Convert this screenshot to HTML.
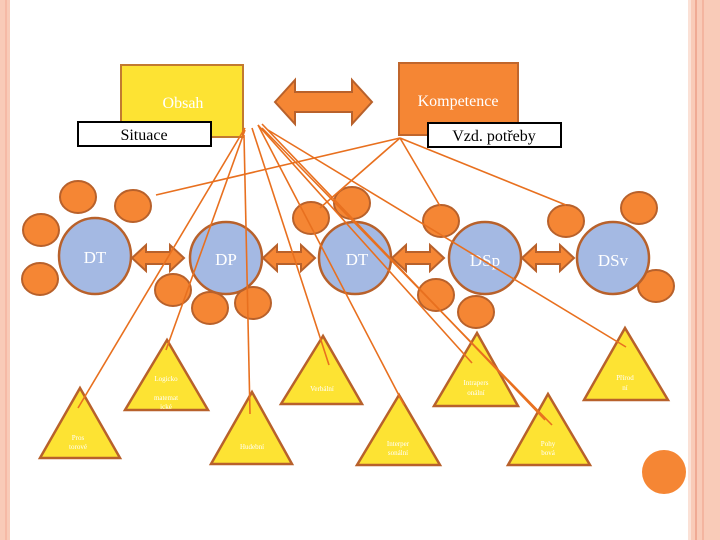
<!DOCTYPE html>
<html><head><meta charset="utf-8"><style>
html,body{margin:0;padding:0;background:#fff}
svg{display:block}
text{font-family:"Liberation Serif",serif}
</style></head><body>
<svg width="720" height="540" viewBox="0 0 720 540" xmlns="http://www.w3.org/2000/svg">
<defs>
<g id="harr"><polygon points="0,0 14,-13 14,-6 38,-6 38,-13 52,0 38,13 38,6 14,6 14,13" fill="#f58634" stroke="#b8612b" stroke-width="2"/></g>
</defs>
<!-- borders -->
<rect x="0" y="0" width="10" height="540" fill="#f9cbb8"/>
<line x1="6" y1="0" x2="6" y2="540" stroke="#f3a994" stroke-width="1"/>
<rect x="688" y="0" width="32" height="540" fill="#f9cbb8"/>
<rect x="688" y="0" width="3" height="540" fill="#fbe1d6"/>
<line x1="696" y1="0" x2="696" y2="540" stroke="#ee9f88" stroke-width="1.5"/>
<line x1="703" y1="0" x2="703" y2="540" stroke="#ee9f88" stroke-width="1"/>

<!-- top boxes -->
<rect x="121" y="65" width="122" height="72" fill="#fde333" stroke="#c27a30" stroke-width="2"/>
<text x="183" y="108" fill="#fff" font-size="16" text-anchor="middle">Obsah</text>
<rect x="399" y="63" width="119" height="72" fill="#f58634" stroke="#c0662c" stroke-width="2"/>
<text x="458" y="106" fill="#fff" font-size="16" text-anchor="middle">Kompetence</text>
<polygon points="275,102 295,80 295,92 352,92 352,80 372,102 352,124 352,112 295,112 295,124" fill="#f58634" stroke="#b8612b" stroke-width="2"/>
<rect x="78" y="122" width="133" height="24" fill="#fff" stroke="#000" stroke-width="2"/>
<text x="144" y="140" font-size="16" text-anchor="middle" fill="#000">Situace</text>
<rect x="428" y="123" width="133" height="24" fill="#fff" stroke="#000" stroke-width="2"/>
<text x="494" y="141" font-size="16" text-anchor="middle" fill="#000">Vzd. potřeby</text>

<!-- small orange circles -->
<g fill="#f58634" stroke="#b8612b" stroke-width="2">
<ellipse cx="78" cy="197" rx="18" ry="16"/>
<ellipse cx="133" cy="206" rx="18" ry="16"/>
<ellipse cx="41" cy="230" rx="18" ry="16"/>
<ellipse cx="40" cy="279" rx="18" ry="16"/>
<ellipse cx="173" cy="290" rx="18" ry="16"/>
<ellipse cx="210" cy="308" rx="18" ry="16"/>
<ellipse cx="253" cy="303" rx="18" ry="16"/>
<ellipse cx="311" cy="218" rx="18" ry="16"/>
<ellipse cx="352" cy="203" rx="18" ry="16"/>
<ellipse cx="441" cy="221" rx="18" ry="16"/>
<ellipse cx="436" cy="295" rx="18" ry="16"/>
<ellipse cx="476" cy="312" rx="18" ry="16"/>
<ellipse cx="566" cy="221" rx="18" ry="16"/>
<ellipse cx="639" cy="208" rx="18" ry="16"/>
<ellipse cx="656" cy="286" rx="18" ry="16"/>
</g>
<circle cx="664" cy="472" r="22" fill="#f58634"/>

<!-- big circles -->
<g fill="#a4b9e3" stroke="#b8612b" stroke-width="2.5">
<ellipse cx="95" cy="256" rx="36" ry="38"/>
<circle cx="226" cy="258" r="36"/>
<circle cx="355" cy="258" r="36"/>
<circle cx="485" cy="258" r="36"/>
<circle cx="613" cy="258" r="36"/>
</g>
<g fill="#fff" font-size="17" text-anchor="middle">
<text x="95" y="263">DT</text><text x="226" y="265">DP</text><text x="357" y="265">DT</text><text x="485" y="266">DSp</text><text x="613" y="266">DSv</text>
</g>
<use href="#harr" x="132" y="258"/>
<use href="#harr" x="263" y="258"/>
<use href="#harr" x="392" y="258"/>
<use href="#harr" x="522" y="258"/>

<!-- triangles -->
<g fill="#fde333" stroke="#b8612b" stroke-width="2.5">
<polygon points="80,388 40,458 120,458"/>
<polygon points="167,340 125,410 208,410"/>
<polygon points="252,392 211,464 292,464"/>
<polygon points="323,336 281,404 362,404"/>
<polygon points="399,395 357,465 440,465"/>
<polygon points="477,333 434,406 518,406"/>
<polygon points="548,394 508,465 590,465"/>
<polygon points="625,328 584,400 668,400"/>
</g>
<g fill="#fff" font-size="7" text-anchor="middle">
<text x="78" y="440">Pros</text><text x="78" y="449">torové</text>
<text x="166" y="381">Logicko</text><text x="166" y="400">matemat</text><text x="166" y="409">ické</text>
<text x="322" y="391">Verbální</text>
<text x="252" y="449">Hudební</text>
<text x="398" y="446">Interper</text><text x="398" y="455">sonální</text>
<text x="476" y="385">Intrapers</text><text x="476" y="395">onální</text>
<text x="548" y="446">Pohy</text><text x="548" y="455">bová</text>
<text x="625" y="380">Přírod</text><text x="625" y="390">ní</text>
</g>

<!-- connector lines -->
<g stroke="#e8701f" stroke-width="1.6" fill="none">
<line x1="245" y1="128" x2="78" y2="408"/>
<line x1="245" y1="130" x2="166" y2="350"/>
<line x1="244" y1="135" x2="250" y2="414"/>
<line x1="252" y1="128" x2="329" y2="365"/>
<line x1="258" y1="125" x2="404" y2="405"/>
<line x1="258" y1="125" x2="472" y2="363"/>
<line x1="262" y1="128" x2="552" y2="425"/>
<line x1="262" y1="124" x2="545" y2="420"/>
<line x1="268" y1="130" x2="626" y2="347"/>
<line x1="400" y1="138" x2="156" y2="195"/>
<line x1="400" y1="138" x2="320" y2="208"/>
<line x1="400" y1="138" x2="440" y2="206"/>
<line x1="400" y1="138" x2="566" y2="205"/>
</g>
</svg>
</body></html>
